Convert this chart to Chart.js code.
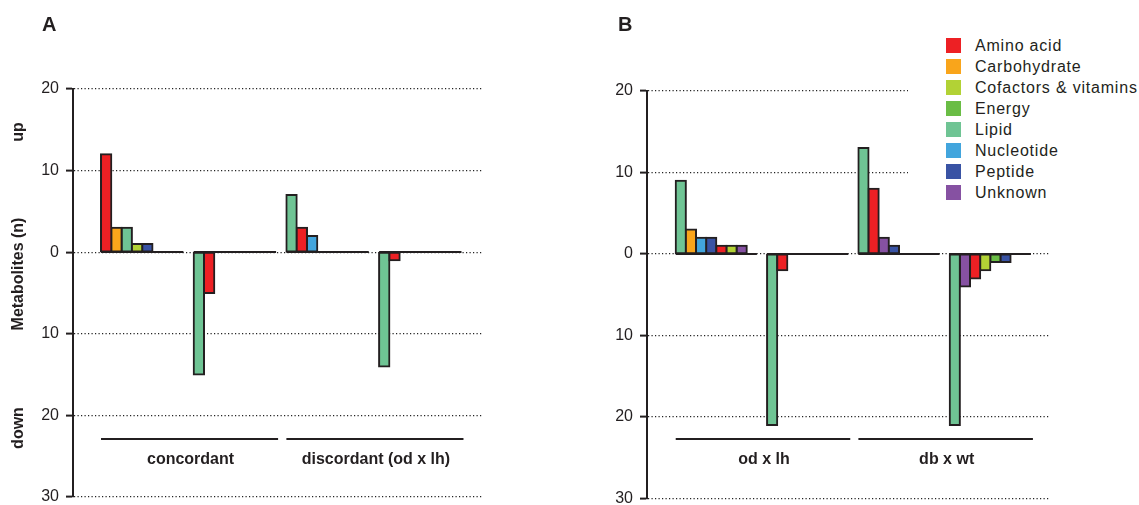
<!DOCTYPE html>
<html>
<head>
<meta charset="utf-8">
<script src="https://cdn.jsdelivr.net/npm/chart.js@4"></script>
<style>
  body { margin: 0; width: 1139px; height: 505px; overflow: hidden; background: #fff;
         font-family: "Liberation Sans", Arial, sans-serif; color: #231f20; }
  .panel { position: absolute; top: 0; }
  .letter { position: absolute; font-weight: bold; font-size: 20px; line-height: 1; }
  .side { position: absolute; font-weight: bold; font-size: 16px; white-space: nowrap;
          transform: translate(-50%, -50%) rotate(-90deg); line-height: 1; }
  #legend { position: absolute; left: 908px; top: 35px; width: 231px; height: 170px; background: #fff; }
  #legend .row { position: absolute; left: 38px; height: 21px; display: flex; align-items: center;
                 font-size: 16px; letter-spacing: 0.8px; white-space: nowrap; }
  #legend .sw { width: 15px; height: 15px; margin-right: 14px; }
</style>
</head>
<body>
<div class="panel" style="left:0"><canvas id="chartA" width="570" height="515"></canvas></div>
<div class="panel" style="left:570px"><canvas id="chartB" width="569" height="515"></canvas></div>
<div class="letter" style="left:42px; top:14px">A</div>
<div class="letter" style="left:618px; top:14px">B</div>
<div class="side" style="left:18px; top:132px">up</div>
<div class="side" style="left:18px; top:274px">Metabolites (n)</div>
<div class="side" style="left:18px; top:428px">down</div>
<div id="legend"></div>
<script>
// metabolite classes, same order as the legend
const categories = ['Amino acid', 'Carbohydrate', 'Cofactors & vitamins', 'Energy', 'Lipid', 'Nucleotide', 'Peptide', 'Unknown']
const colors = ['#ed2024', '#f9a51b', '#b2d235', '#6abd45', '#6fc494', '#42a5dd', '#3953a4', '#8651a2']

// counts per class (category order), "down" counts kept positive
const concordantUp = [12, 3, 1, 0, 3, 0, 1, 0]
const concordantDown = [5, 0, 0, 0, 15, 0, 0, 0]
const discordantUp = [3, 0, 0, 0, 7, 2, 0, 0]
const discordantDown = [1, 0, 0, 0, 14, 0, 0, 0]
const odLhUp = [1, 3, 1, 0, 9, 2, 2, 1]
const odLhDown = [2, 0, 0, 0, 21, 0, 0, 0]
const dbWtUp = [8, 0, 0, 0, 13, 0, 1, 2]
const dbWtDown = [3, 0, 2, 1, 21, 0, 1, 4]

const comparisonsA = ['concordant', 'discordant (od x lh)']
const comparisonsB = ['od x lh', 'db x wt']
const yTicks = [20, 10, 0, -10, -20, -30]

const SLOTS = 9 // 8 classes + one empty slot between groups
const ink = '#231f20'

// legend
const legend = document.getElementById('legend')
categories.forEach((c, i) => {
  const row = document.createElement('div')
  row.className = 'row'
  row.style.top = (i * 21) + 'px'
  row.innerHTML = '<div class="sw" style="background:' + colors[i] + '"></div><span></span>'
  row.querySelector('span').textContent = c
  legend.appendChild(row)
})

function buildDatasets(groups) {
  // groups: [values, sign] ; bars sorted by count within each group
  return categories.map((cat, ci) => {
    const data = []
    groups.forEach(([vals, sign], g) => {
      const order = vals.map((v, i) => i).filter(i => vals[i] > 0).sort((a, b) => vals[b] - vals[a])
      const slot = order.indexOf(ci)
      if (slot >= 0) data.push({ x: g * SLOTS + slot, y: sign * vals[ci] })
    })
    return {
      label: cat,
      data: data,
      backgroundColor: colors[ci],
      borderColor: ink,
      borderWidth: 2,
      borderSkipped: false,
      inflateAmount: 1,
      barPercentage: 1,
      categoryPercentage: 1,
      grouped: false
    }
  })
}

const groupLines = {
  id: 'groupLines',
  afterDatasetsDraw(chart, args, opts) {
    const { ctx } = chart
    const x = chart.scales.x
    const y = chart.scales.y
    ctx.save()
    ctx.strokeStyle = ink
    ctx.lineWidth = 2
    // zero line under each group
    for (let g = 0; g < 4; g++) {
      const y0 = Math.round(y.getPixelForValue(0))
      ctx.beginPath()
      ctx.moveTo(x.getPixelForValue(g * SLOTS - 0.5), y0)
      ctx.lineTo(x.getPixelForValue(g * SLOTS + 7.5), y0)
      ctx.stroke()
    }
    // comparison brackets and names
    ctx.font = 'bold 16px "Liberation Sans", Arial, sans-serif'
    ctx.fillStyle = ink
    ctx.textAlign = 'center'
    ctx.textBaseline = 'middle'
    opts.names.forEach((name, k) => {
      const x0 = x.getPixelForValue(k * 2 * SLOTS - 0.5)
      const x1 = x.getPixelForValue(k * 2 * SLOTS + SLOTS + 7.5) + 2
      ctx.beginPath()
      ctx.moveTo(x0, 439)
      ctx.lineTo(x1, 439)
      ctx.stroke()
      ctx.fillText(name, (x0 + x1) / 2 + 1, 460)
    })
    ctx.restore()
  }
}

function makeChart(id, groups, names, pad, xMin, xMax) {
  return new Chart(document.getElementById(id), {
    type: 'bar',
    data: { datasets: buildDatasets(groups) },
    plugins: [groupLines],
    options: {
      responsive: false,
      animation: false,
      layout: { padding: pad },
      plugins: {
        legend: { display: false },
        tooltip: { enabled: false },
        groupLines: { names: names }
      },
      scales: {
        x: { type: 'linear', display: false, offset: false, min: xMin, max: xMax },
        y: {
          min: -30,
          max: 20,
          afterBuildTicks: (scale) => { scale.ticks = yTicks.map(v => ({ value: v })) },
          afterFit: (scale) => { scale.width = 40 },
          ticks: {
            padding: 7,
            color: ink,
            font: { family: '"Liberation Sans", Arial, sans-serif', size: 16 },
            callback: (v) => Math.abs(v)
          },
          grid: { color: '#222', lineWidth: 1.2, tickLength: 7, tickColor: ink, tickWidth: 2 },
          border: { display: true, color: ink, width: 2, dash: [1.2, 2.3] }
        }
      }
    }
  })
}

makeChart('chartA',
  [[concordantUp, 1], [concordantDown, -1], [discordantUp, 1], [discordantDown, -1]],
  comparisonsA, { left: 33, right: 87, top: 89, bottom: 18 }, -3.22, 36.59)

makeChart('chartB',
  [[odLhUp, 1], [odLhDown, -1], [dbWtUp, 1], [dbWtDown, -1]],
  comparisonsB, { left: 37, right: 89, top: 91, bottom: 16 }, -3.33, 36.38)
</script>
</body>
</html>
